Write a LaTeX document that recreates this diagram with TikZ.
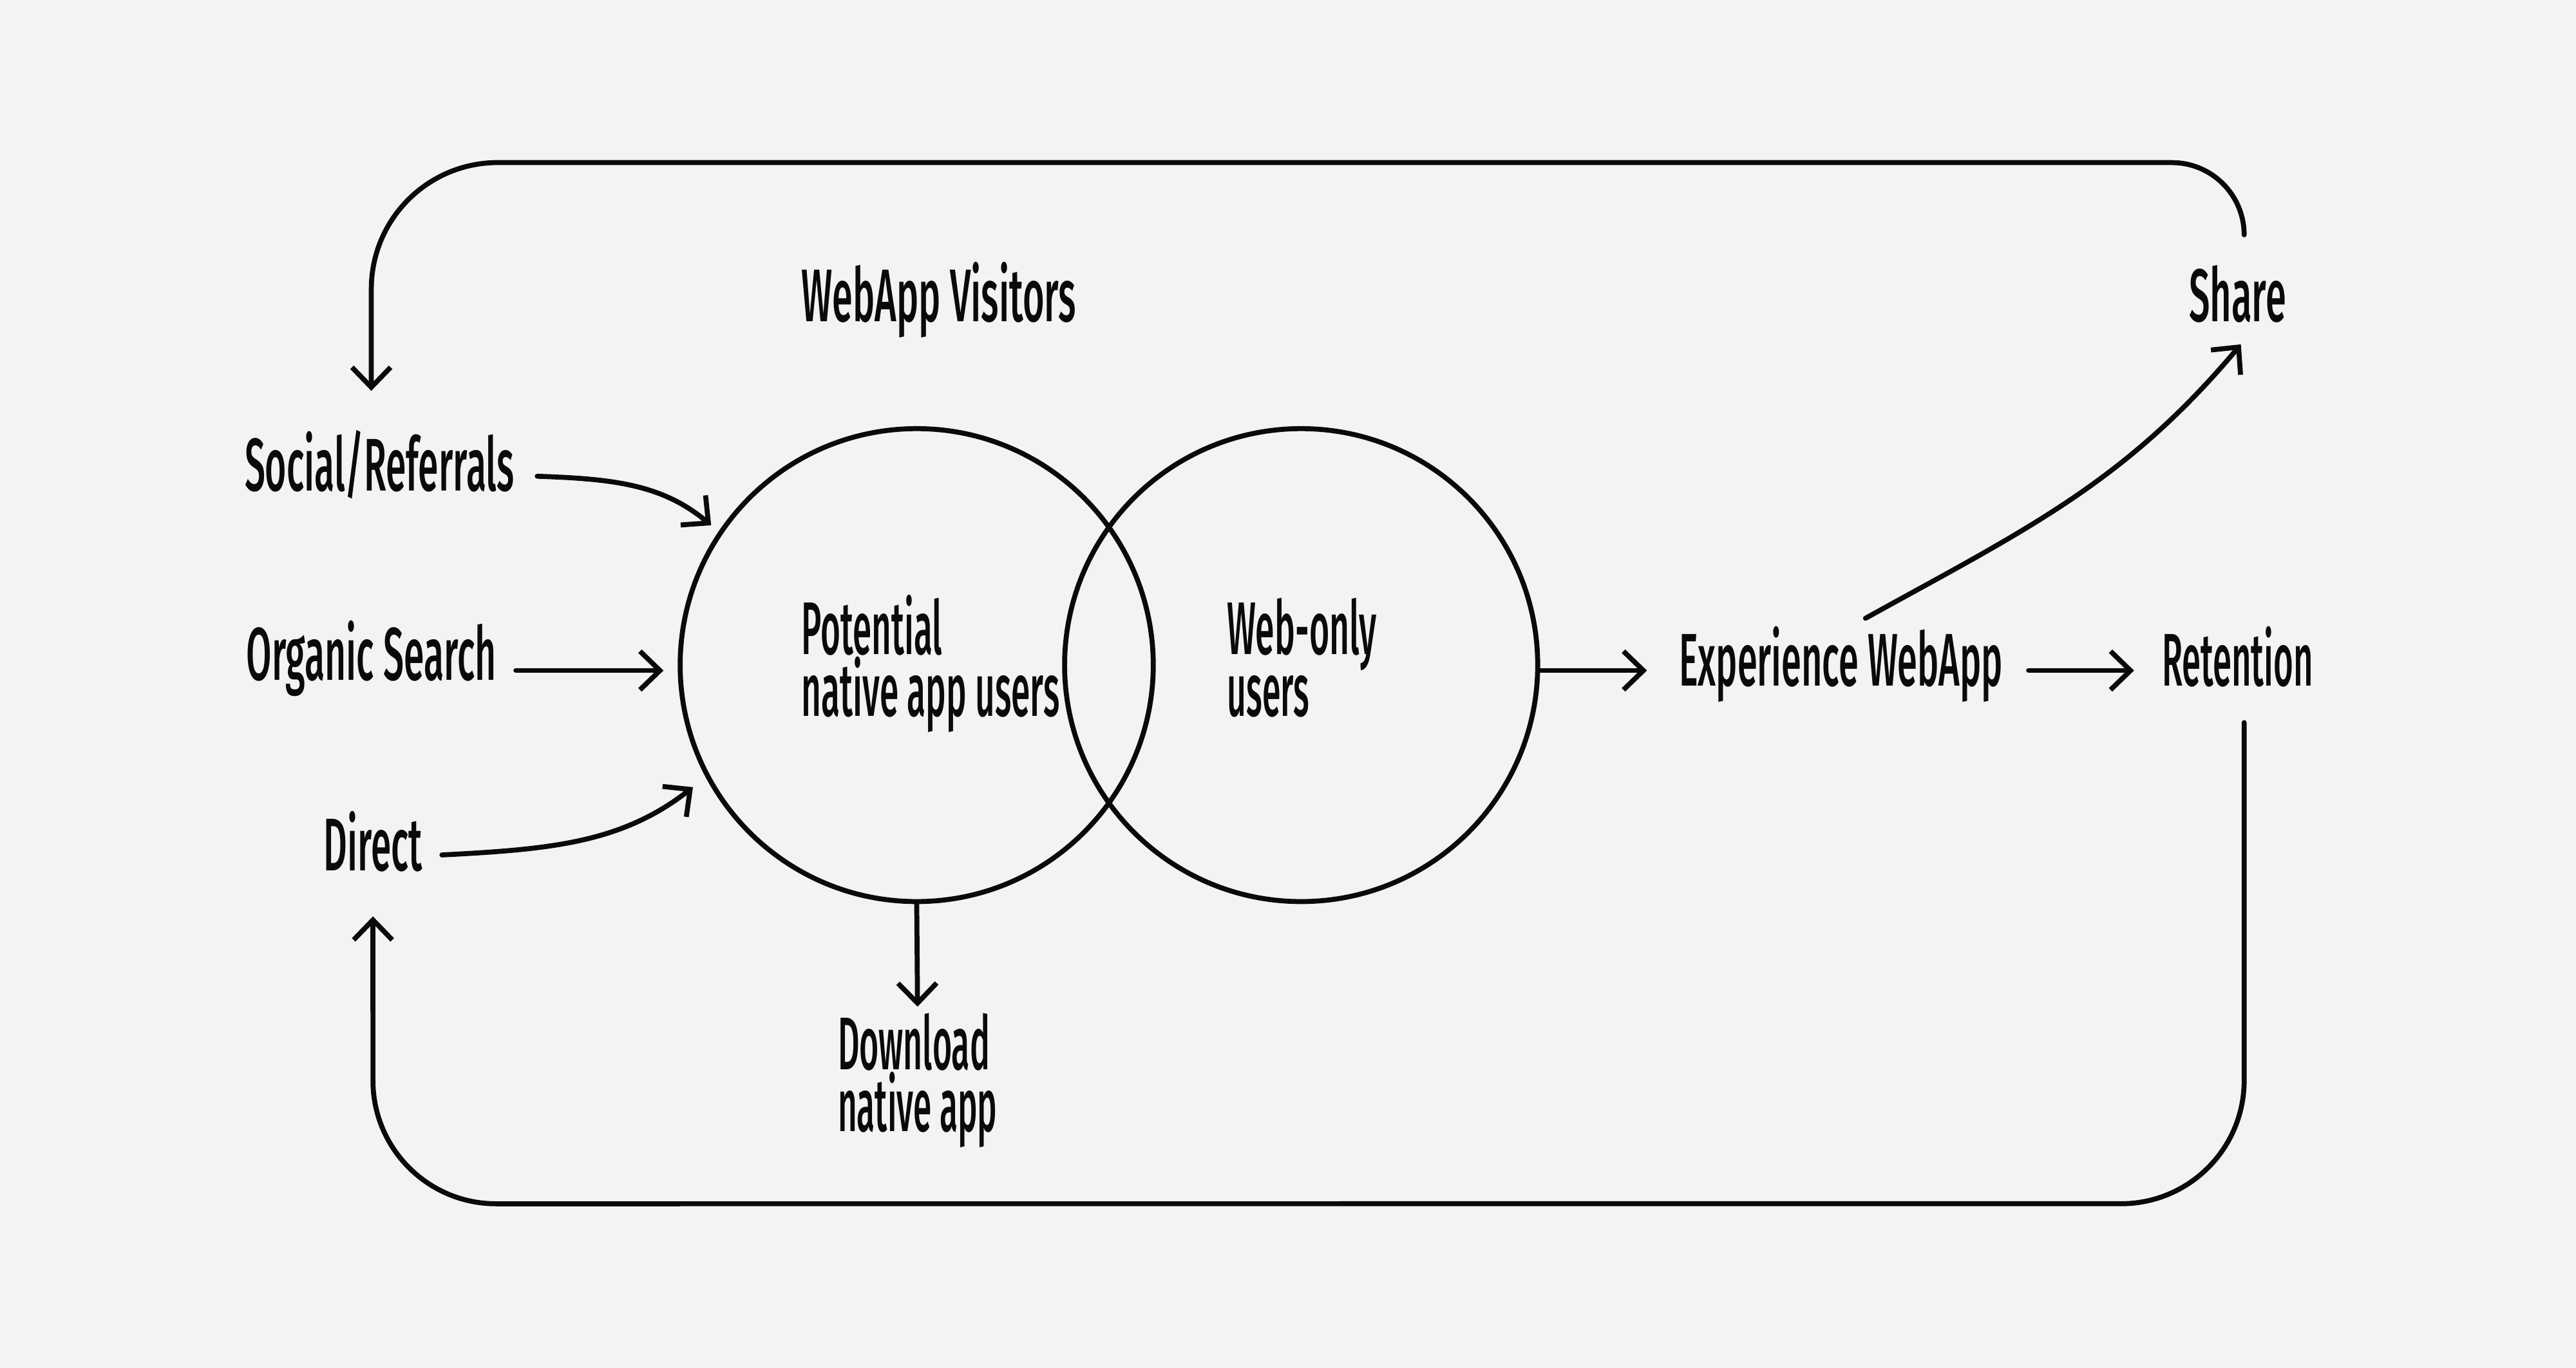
\documentclass[tikz,border=0pt]{standalone}
\usepackage{fontspec}
\usepackage{graphicx}
\usetikzlibrary{arrows.meta}
\newfontfamily\handfam{Fira Sans Medium}
\newlength\unitlen
\setlength\unitlen{0.02551cm}
\newcommand\hand{\handfam\fontsize{33}{27.2}\selectfont}
\newcommand\hw[2]{\resizebox{#1\unitlen}{\height}{#2}}
\definecolor{bgc}{HTML}{F3F3F3}
\definecolor{ink}{HTML}{0A0A0A}
\tikzset{
  arr/.style={-{Straight Barb[length=0.31cm,width=0.6cm]}, line width=2.2pt, line cap=round, line join=round, draw=ink},
  lbl/.style={inner sep=0pt, outer sep=0pt, anchor=base west, font=\hand, text=ink},
  venn/.style={circle, draw=ink, line width=2.2pt, inner sep=0pt, minimum size=7.347cm}
}
\begin{document}
\begin{tikzpicture}[x=0.02551cm, y=0.02551cm]
\fill[bgc] (0,0) rectangle (1568,833);
\useasboundingbox (0,0) rectangle (1568,833);

% circles
\node[venn] (pc) at (558,428) {};
\node[venn] (wc) at (792,428) {};

% labels
\node[lbl] (visitors) at (488,637) {\hw{167}{WebApp Visitors}};
\node[lbl] (share) at (1332.5,637) {\hw{59}{Share}};
\node[lbl] (social) at (149,534) {\hw{164}{Social/Referrals}};
\node[lbl] (organic) at (150,419) {\hw{152}{Organic Search}};
\node[lbl] (direct) at (197,303) {\hw{60}{Direct}};
\node[lbl] (potential) at (488,434.4) {\vtop{\hbox{\hw{85.5}{Potential}}\hbox{\hw{157}{native app users}}}};
\node[lbl] (webonly) at (747,434.4) {\vtop{\hbox{\hw{91}{Web-only}}\hbox{\hw{50}{users}}}};
\node[lbl] (exp) at (1022,415.5) {\hw{197}{Experience WebApp}};
\node[lbl] (ret) at (1316,415.5) {\hw{92}{Retention}};
\node[lbl] (download) at (510,181.6) {\vtop{\hbox{\hw{92.5}{Download}}\hbox{\hw{97}{native app}}}};

% helper coordinates on the connectors
\coordinate (shareTop) at ([shift={(4,53)}]share.base);
\coordinate (socialTop) at ([shift={(-5,61)}]social.base);
\coordinate (retBottom) at ([shift={(4,-22.5)}]ret.base);
\coordinate (directBottom) at ([shift={(0,-28)}]direct.base);
\coordinate (os) at ([shift={(12,5.7)}]organic.base east);
\coordinate (expIn) at ([shift={(-19.5,9.2)}]exp.base west);

% top loop: Share -> Social/Referrals
\draw[arr] (shareTop) arc[start angle=0, end angle=90, radius=1.122cm]
  -- (303,734) arc[start angle=90, end angle=180, radius=1.964cm]
  -- (socialTop);

% bottom loop: Retention -> Direct
\draw[arr] (retBottom) -- (1366,175)
  arc[start angle=0, end angle=-90, radius=1.913cm]
  -- (302,100) arc[start angle=270, end angle=180, radius=1.913cm]
  -- (directBottom);

% inputs
\draw[arr, shorten >=0.15cm] ([shift={(14,9)}]social.base east) to[out=-2, in=140] (pc.146);
\draw[arr, shorten >=0.22cm] (os) -- (os -| pc.west);
\draw[arr, shorten >=0.25cm] ([shift={(12,9.4)}]direct.base east) to[out=3, in=218] (pc.208);

% download
\draw[arr] (pc.south) -- ([shift={(0,38.4)}]download.base);

% outputs
\draw[arr] (expIn -| wc.east) -- (expIn);
\draw[arr] ([shift={(15.8,9.2)}]exp.base east) -- ([shift={(-17,9.2)}]ret.base west);
\draw[arr] ([shift={(15,41)}]exp.base) to[out=29, in=230] ([shift={(2,-13.7)}]share.base);
\end{tikzpicture}
\end{document}
